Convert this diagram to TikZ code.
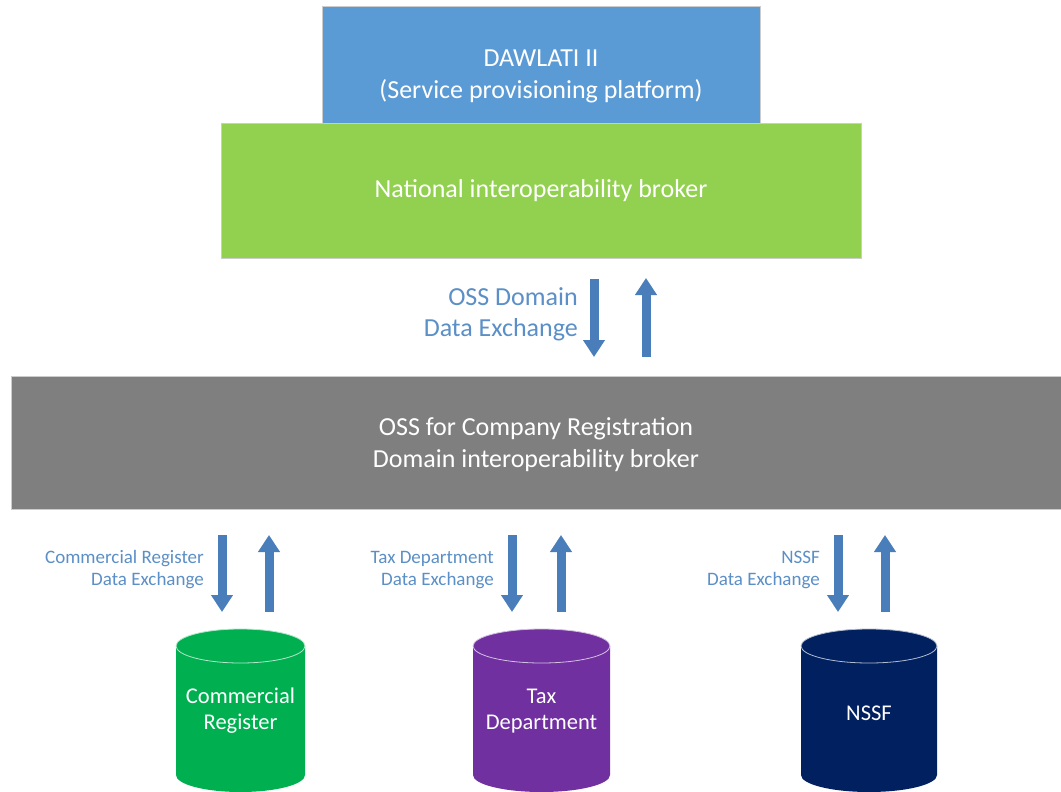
\documentclass[tikz,border=0pt]{standalone}
\usepackage{fontspec}
\setmainfont{Carlito}
\usetikzlibrary{arrows.meta}
\definecolor{dblue}{HTML}{5B9BD5}
\definecolor{lgreen}{HTML}{92D050}
\definecolor{dgrey}{HTML}{7F7F7F}
\definecolor{arrowc}{HTML}{4A7EBB}
\definecolor{labc}{HTML}{5B8FC7}
\definecolor{cgreen}{HTML}{00B050}
\definecolor{cpurple}{HTML}{7030A0}
\definecolor{cnavy}{HTML}{002060}
\tikzset{
  layerbox/.style={rectangle, draw=black!20, line width=0.8pt, text=white, align=center,
    inner sep=0pt, font=\fontsize{26}{32}\selectfont},
  flowarrow/.style={draw=arrowc, line width=9pt, -{Triangle[width=21pt,length=17pt]}},
  biglabel/.style={text=labc, align=right, anchor=east, inner sep=0pt, font=\fontsize{26}{31}\selectfont},
  smalllabel/.style={text=labc, align=right, anchor=east, inner sep=0pt, font=\fontsize{19}{22}\selectfont},
  cyltext/.style={text=white, align=center, inner sep=0pt, font=\fontsize{22.5}{26}\selectfont},
}
\newcommand{\mycyl}[4]{% cx, left, right, colour
  \fill[#4] (#2,646) -- (#2,775) arc[start angle=180, end angle=0, x radius={(#3-#2)/2}, y radius=17] -- (#3,646) arc[start angle=0, end angle=-180, x radius={(#3-#2)/2}, y radius=17] -- cycle;
  \draw[white!70!#4, line width=0.8pt] (#1,646) ellipse[x radius={(#3-#2)/2}, y radius=17];
}
\begin{document}
\begin{tikzpicture}[x=1pt,y=-1pt]
\useasboundingbox[fill=white] (0,0) rectangle (1061,792);

\node[layerbox, fill=dblue, minimum width=438pt, minimum height=140pt] (dawlati) at (541,76)
  {DAWLATI II\\(Service provisioning platform)};
\node[layerbox, fill=lgreen, minimum width=640pt, minimum height=135pt] (nib) at (541,190.5)
  {National interoperability broker};
\node[layerbox, fill=dgrey, minimum width=1050pt, minimum height=133pt] (oss) at (536,442.5)
  {};
\node[text=white, align=center, inner sep=0pt, font=\fontsize{26}{32}\selectfont] (osstext) at (536,444.5)
  {OSS for Company Registration\\Domain interoperability broker};

% OSS domain arrows
\coordinate (od1) at (594,279);
\coordinate (od2) at (594,357);
\coordinate (ou1) at (646,357);
\coordinate (ou2) at (646,278);
\draw[flowarrow] (od1) -- (od2);
\draw[flowarrow] (ou1) -- (ou2);
\node[biglabel] (osslab) at (578,314) {OSS Domain\\Data Exchange};

% bottom arrows
\foreach \n/\dx/\ux/\lx/\txt in {cr/222/269/204/{Commercial Register\\Data Exchange},
                                  td/512/561/494/{Tax Department\\Data Exchange},
                                  ns/838/885/820/{NSSF\\Data Exchange}}{
  \coordinate (\n d1) at (\dx,535);
  \coordinate (\n d2) at (\dx,612);
  \coordinate (\n u1) at (\ux,612);
  \coordinate (\n u2) at (\ux,535);
  \draw[flowarrow] (\n d1) -- (\n d2);
  \draw[flowarrow] (\n u1) -- (\n u2);
  \node[smalllabel] (\n lab) at (\lx,570) {\txt};
}

% cylinders
\mycyl{240.5}{176}{305}{cgreen}
\mycyl{541.5}{473}{610}{cpurple}
\mycyl{869}{801}{937}{cnavy}
\node[cyltext] (cr) at (240.5,711) {Commercial\\Register};
\node[cyltext] (td) at (541.5,711) {Tax\\Department};
\node[cyltext] (ns) at (869,713) {NSSF};
\end{tikzpicture}
\end{document}
